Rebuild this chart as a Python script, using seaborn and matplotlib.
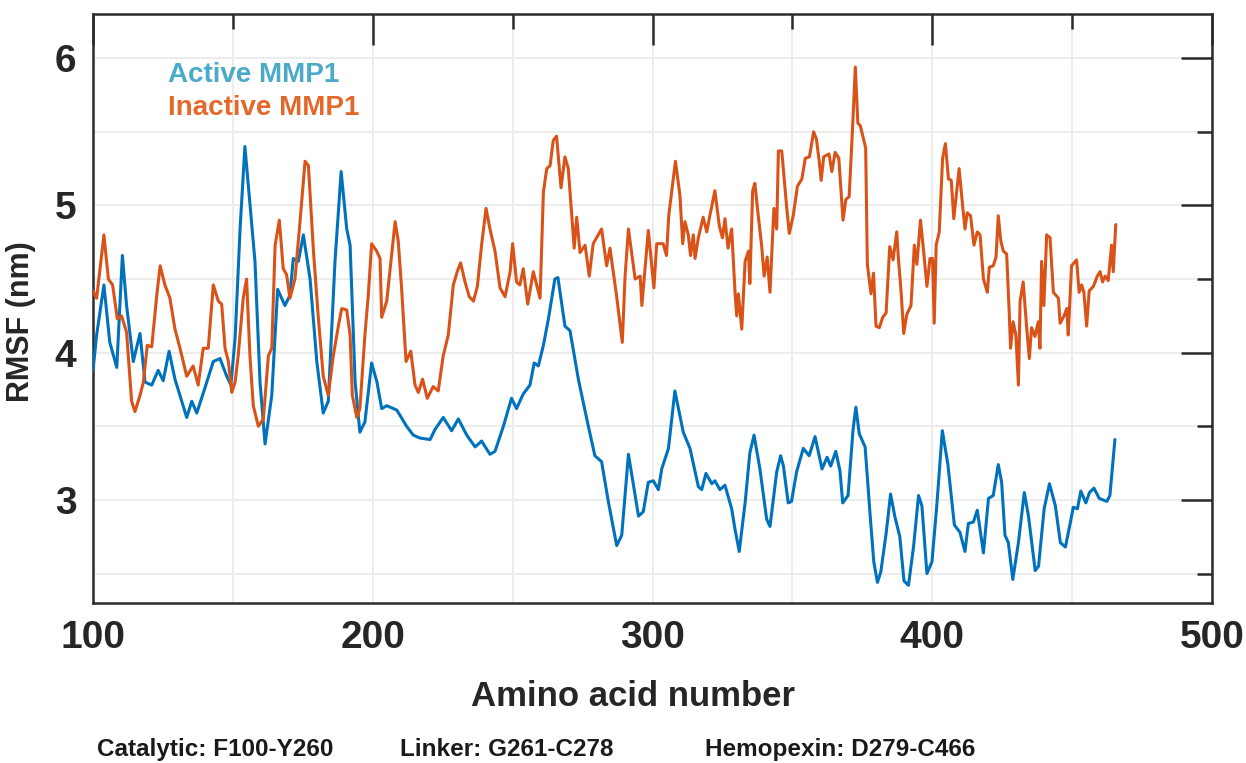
import numpy as np
import pandas as pd
import matplotlib
matplotlib.use("Agg")
import matplotlib.pyplot as plt
from matplotlib.ticker import MultipleLocator
import seaborn as sns

# ---------------- data ----------------
active_res = [100.0, 101.3, 103.9, 106.0, 108.5, 110.5, 112.0, 114.4, 116.8, 118.6,
              121.0, 123.3, 125.1, 127.2, 129.3, 131.7, 133.5, 135.3, 137.1, 140.0,
              143.0, 145.4, 147.8, 149.3, 150.8, 152.6, 154.3, 157.9, 159.7, 161.5,
              163.9, 166.0, 168.6, 170.4, 171.6, 173.4, 175.2, 177.6, 180.0, 182.3,
              184.1, 186.5, 188.7, 190.7, 191.9, 193.7, 195.4, 197.2, 199.6, 201.5,
              203.2, 205.0, 208.6, 212.1, 214.5, 216.9, 220.5, 222.3, 225.2, 228.2,
              230.6, 233.6, 236.6, 238.9, 241.9, 243.7, 246.7, 249.6, 251.4, 253.8,
              256.2, 257.7, 259.2, 261.0, 262.8, 265.1, 266.2, 268.7, 270.5, 273.5,
              276.5, 279.4, 281.8, 284.2, 287.2, 289.0, 291.4, 293.2, 295.0, 296.7,
              298.5, 300.3, 302.1, 303.3, 305.7, 308.0, 311.0, 313.4, 316.4, 317.6,
              319.1, 321.2, 322.3, 324.1, 325.9, 328.3, 329.5, 331.0, 333.1, 334.8,
              336.3, 338.4, 340.8, 342.0, 344.4, 345.8, 346.8, 348.5, 349.7, 351.5,
              353.9, 356.0, 358.1, 360.6, 362.4, 363.7, 365.5, 367.0, 368.0, 369.9,
              371.7, 372.7, 373.9, 376.0, 377.9, 379.1, 380.4, 381.6, 383.5, 385.1,
              386.6, 388.4, 389.9, 391.5, 393.3, 395.1, 396.3, 398.1, 399.9, 401.7,
              403.6, 405.6, 407.9, 409.9, 411.7, 412.9, 414.7, 416.1, 418.3, 420.1,
              421.8, 423.6, 424.8, 426.0, 427.2, 428.8, 430.8, 432.9, 434.4, 436.8,
              438.0, 440.0, 441.9, 444.0, 445.8, 447.6, 449.4, 450.4, 451.9, 453.1,
              454.9, 456.2, 457.8, 459.7, 462.4, 463.5, 465.3]
active_rmsf = [3.88, 4.12, 4.46, 4.07, 3.90, 4.66, 4.32, 3.94, 4.13, 3.80,
               3.78, 3.88, 3.81, 4.01, 3.82, 3.67, 3.56, 3.67, 3.59, 3.76,
               3.94, 3.96, 3.84, 3.78, 4.10, 4.85, 5.40, 4.62, 3.80, 3.38,
               3.71, 4.43, 4.32, 4.39, 4.64, 4.62, 4.80, 4.50, 3.94, 3.59,
               3.67, 4.62, 5.23, 4.84, 4.73, 3.80, 3.46, 3.53, 3.93, 3.80,
               3.62, 3.64, 3.61, 3.50, 3.44, 3.42, 3.41, 3.48, 3.56, 3.47,
               3.55, 3.44, 3.36, 3.40, 3.31, 3.33, 3.50, 3.69, 3.62, 3.72,
               3.78, 3.93, 3.91, 4.05, 4.23, 4.50, 4.51, 4.18, 4.15, 3.82,
               3.55, 3.30, 3.26, 2.99, 2.69, 2.76, 3.31, 3.10, 2.89, 2.92,
               3.12, 3.13, 3.07, 3.21, 3.35, 3.74, 3.46, 3.35, 3.09, 3.07,
               3.18, 3.11, 3.13, 3.07, 3.10, 2.94, 2.80, 2.65, 2.98, 3.32,
               3.44, 3.21, 2.87, 2.82, 3.19, 3.30, 3.23, 2.98, 2.99, 3.19,
               3.35, 3.30, 3.43, 3.21, 3.29, 3.23, 3.33, 3.20, 2.98, 3.03,
               3.48, 3.63, 3.45, 3.36, 2.87, 2.58, 2.44, 2.51, 2.77, 3.04,
               2.89, 2.75, 2.45, 2.42, 2.68, 3.03, 2.96, 2.50, 2.58, 2.98,
               3.47, 3.24, 2.83, 2.78, 2.65, 2.84, 2.85, 2.93, 2.64, 3.01,
               3.03, 3.24, 3.12, 2.76, 2.71, 2.46, 2.71, 3.05, 2.89, 2.52,
               2.55, 2.94, 3.11, 2.96, 2.71, 2.68, 2.85, 2.95, 2.94, 3.06,
               2.98, 3.05, 3.08, 3.01, 2.99, 3.03, 3.41]

inactive_res = [100.0, 101.3, 103.9, 105.5, 107.0, 108.7, 110.2, 112.0, 113.8, 115.0,
                116.8, 118.0, 119.4, 121.0, 122.8, 124.0, 125.7, 127.5, 129.3, 131.1,
                133.5, 135.8, 137.6, 139.4, 141.2, 143.0, 144.8, 146.0, 147.2, 148.4,
                149.6, 150.8, 151.9, 153.7, 154.9, 156.1, 157.3, 159.1, 160.9, 162.7,
                163.9, 165.1, 166.6, 168.0, 169.2, 170.4, 172.2, 174.0, 175.8, 177.0,
                178.8, 180.5, 182.3, 184.1, 185.9, 187.7, 188.9, 190.7, 191.9, 192.7,
                194.3, 195.4, 197.2, 198.4, 199.6, 201.4, 202.6, 203.2, 205.0, 208.0,
                209.1, 210.3, 211.9, 213.6, 215.1, 216.3, 217.8, 219.5, 221.6, 223.4,
                225.2, 227.0, 228.8, 230.2, 231.4, 233.0, 234.5, 236.0, 237.4, 238.9,
                240.5, 241.9, 243.7, 245.5, 247.3, 249.1, 250.0, 251.4, 252.6, 253.8,
                255.4, 257.4, 259.8, 261.0, 262.2, 263.4, 264.5, 265.7, 267.3, 268.7,
                269.9, 272.0, 272.9, 274.1, 275.9, 277.4, 278.8, 281.8, 283.6, 284.8,
                287.2, 289.2, 290.2, 291.4, 293.8, 295.6, 296.2, 298.5, 300.5, 301.5,
                303.8, 305.0, 305.8, 308.2, 309.8, 310.8, 311.6, 312.8, 313.6, 314.6,
                315.2, 316.4, 318.1, 319.4, 320.5, 322.3, 323.9, 325.0, 325.9, 327.0,
                328.3, 329.5, 330.1, 330.7, 331.9, 333.1, 334.3, 334.8, 335.8, 336.6,
                337.8, 339.0, 339.9, 341.0, 342.0, 343.4, 344.4, 345.0, 346.2, 348.0,
                348.9, 350.3, 351.8, 353.4, 354.6, 356.1, 357.6, 358.6, 359.6, 360.3,
                361.2, 363.1, 364.1, 365.3, 366.6, 368.1, 369.1, 370.3, 371.6, 372.5,
                373.4, 374.3, 376.2, 376.8, 378.1, 379.0, 379.9, 381.1, 382.3, 383.5,
                384.8, 386.0, 387.3, 387.9, 388.8, 389.8, 390.9, 392.4, 393.6, 394.5,
                395.8, 396.8, 398.1, 399.2, 400.1, 400.7, 401.4, 402.5, 403.7, 404.7,
                405.8, 406.8, 407.7, 409.6, 410.9, 411.7, 412.5, 413.7, 414.9, 416.1,
                417.1, 418.3, 419.7, 420.4, 421.8, 422.8, 423.6, 424.5, 425.4, 426.6,
                427.5, 428.0, 428.9, 429.9, 430.8, 431.4, 432.5, 433.8, 434.7, 435.5,
                436.7, 437.9, 438.5, 439.1, 439.9, 440.9, 442.1, 443.3, 445.1, 445.7,
                447.1, 448.1, 448.6, 449.8, 451.6, 452.5, 453.4, 454.2, 455.2, 456.1,
                457.6, 459.0, 460.0, 460.9, 461.8, 462.9, 464.1, 464.7, 465.6]
inactive_rmsf = [4.42, 4.37, 4.80, 4.50, 4.46, 4.23, 4.25, 4.14, 3.67, 3.60,
                 3.71, 3.80, 4.05, 4.04, 4.39, 4.59, 4.46, 4.37, 4.16, 4.03,
                 3.84, 3.91, 3.78, 4.03, 4.03, 4.46, 4.35, 4.33, 4.03, 3.94,
                 3.73, 3.80, 3.98, 4.37, 4.50, 3.98, 3.64, 3.50, 3.55, 3.98,
                 4.03, 4.73, 4.90, 4.57, 4.53, 4.37, 4.50, 4.89, 5.30, 5.27,
                 4.69, 4.25, 3.84, 3.71, 3.98, 4.18, 4.30, 4.29, 4.12, 3.71,
                 3.56, 3.62, 4.12, 4.39, 4.74, 4.69, 4.64, 4.24, 4.35, 4.89,
                 4.76, 4.44, 3.94, 4.01, 3.78, 3.73, 3.82, 3.69, 3.77, 3.74,
                 3.98, 4.12, 4.46, 4.55, 4.61, 4.48, 4.38, 4.35, 4.45, 4.73,
                 4.98, 4.84, 4.69, 4.44, 4.38, 4.55, 4.74, 4.48, 4.46, 4.57,
                 4.33, 4.55, 4.37, 5.09, 5.25, 5.27, 5.44, 5.47, 5.12, 5.33,
                 5.25, 4.71, 4.92, 4.68, 4.73, 4.52, 4.74, 4.84, 4.59, 4.71,
                 4.38, 4.07, 4.52, 4.84, 4.50, 4.52, 4.32, 4.83, 4.44, 4.74,
                 4.74, 4.66, 4.93, 5.30, 5.07, 4.74, 4.89, 4.80, 4.66, 4.80,
                 4.64, 4.78, 4.92, 4.82, 4.93, 5.10, 4.86, 4.78, 4.91, 4.71,
                 4.84, 4.41, 4.25, 4.40, 4.16, 4.62, 4.69, 4.47, 5.10, 5.15,
                 4.93, 4.73, 4.52, 4.65, 4.41, 4.98, 4.84, 5.37, 5.37, 4.98,
                 4.81, 4.93, 5.13, 5.18, 5.32, 5.33, 5.50, 5.45, 5.30, 5.17,
                 5.33, 5.35, 5.23, 5.36, 5.32, 4.90, 5.04, 5.06, 5.56, 5.94,
                 5.56, 5.54, 5.39, 4.60, 4.40, 4.54, 4.18, 4.17, 4.24, 4.27,
                 4.72, 4.63, 4.82, 4.64, 4.43, 4.13, 4.26, 4.32, 4.73, 4.60,
                 4.90, 4.71, 4.45, 4.64, 4.64, 4.20, 4.73, 4.82, 5.32, 5.42,
                 5.18, 5.17, 4.91, 5.25, 4.99, 4.84, 4.95, 4.93, 4.73, 4.82,
                 4.80, 4.50, 4.41, 4.58, 4.59, 4.65, 4.93, 4.76, 4.69, 4.67,
                 4.28, 4.03, 4.21, 4.12, 3.78, 4.35, 4.48, 4.16, 3.96, 4.17,
                 4.11, 4.21, 4.03, 4.62, 4.32, 4.80, 4.78, 4.41, 4.37, 4.20,
                 4.25, 4.30, 4.12, 4.59, 4.63, 4.41, 4.46, 4.41, 4.18, 4.42,
                 4.45, 4.52, 4.55, 4.48, 4.52, 4.49, 4.73, 4.55, 4.87]

series_names = ["Active MMP1", "Inactive MMP1"]
line_colors = ["#0072BD", "#D95319"]
label_colors = ["#4BAAC8", "#E2692A"]
x_ticks = [100, 200, 300, 400, 500]
y_ticks = [3, 4, 5, 6]
x_label = "Amino acid number"
y_label = "RMSF (nm)"
domain_notes = ["Catalytic: F100-Y260", "Linker: G261-C278", "Hemopexin: D279-C466"]

# ---------------- figure ----------------
sns.set_theme(style="white")
plt.rcParams["font.family"] = ["Liberation Sans", "DejaVu Sans"]
plt.rcParams["font.weight"] = "bold"

fig = plt.figure(figsize=(12.46, 7.63), dpi=100)
ax = fig.add_axes([93 / 1246, 1 - 603 / 763, (1212 - 93) / 1246, (603 - 14) / 763])

df_a = pd.DataFrame({"res": active_res, "rmsf": active_rmsf})
df_i = pd.DataFrame({"res": inactive_res, "rmsf": inactive_rmsf})
sns.lineplot(data=df_a, x="res", y="rmsf", ax=ax, color=line_colors[0],
             linewidth=2.2, estimator=None, sort=False, zorder=3,
             solid_joinstyle="round", solid_capstyle="round")
sns.lineplot(data=df_i, x="res", y="rmsf", ax=ax, color=line_colors[1],
             linewidth=2.2, estimator=None, sort=False, zorder=4,
             solid_joinstyle="round", solid_capstyle="round")

ax.set_xlim(100, 500)
ax.set_ylim(2.3, 6.3)
ax.set_xticks(x_ticks)
ax.set_yticks(y_ticks)
ax.xaxis.set_minor_locator(MultipleLocator(50))
ax.yaxis.set_minor_locator(MultipleLocator(0.5))

ax.grid(True, which="both", color="#ebebeb", linewidth=1.3, zorder=0)
ax.set_axisbelow(True)

frame_c = "#2b2b2b"
for s in ax.spines.values():
    s.set_color(frame_c)
    s.set_linewidth(1.8)

ax.tick_params(axis="both", which="major", direction="in", length=22, width=1.8,
               color=frame_c, top=True, right=True, labelcolor="#262626")
ax.tick_params(axis="both", which="minor", direction="in", length=11, width=1.8,
               color=frame_c, top=True, right=True)
ax.tick_params(axis="x", which="major", labelsize=28, pad=12)
ax.tick_params(axis="y", which="major", labelsize=28, pad=12)
for lab in ax.get_xticklabels() + ax.get_yticklabels():
    lab.set_fontweight("bold")

ax.set_xlabel(x_label, fontsize=25, fontweight="bold", color="#262626")
ax.xaxis.set_label_coords(0.483, -0.13)
ax.set_ylabel(y_label, fontsize=22, fontweight="bold", color="#262626")
ax.yaxis.set_label_coords(-0.051, 0.477)

for name, col, yy in zip(series_names, label_colors, [0.896, 0.840]):
    ax.text(0.067, yy, name, transform=ax.transAxes, fontsize=20, fontweight="bold",
            color=col, ha="left", va="center")

for note, xp in zip(domain_notes, [97, 400, 705]):
    fig.text(xp / 1246, 1 - 756 / 763, note, fontsize=17.5, fontweight="bold",
             color="#1a1a1a", ha="left", va="baseline")

fig.savefig("out.png", dpi=100)
